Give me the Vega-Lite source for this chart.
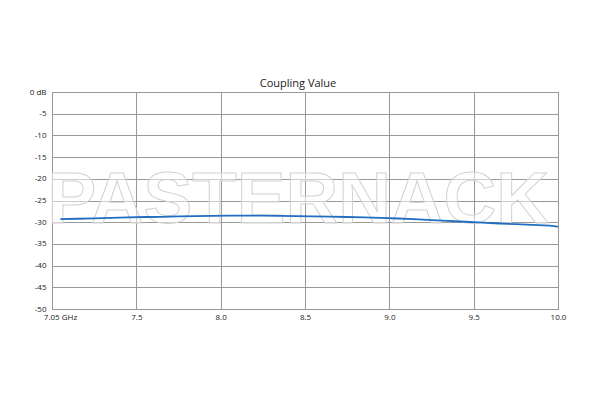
{
  "$schema": "https://vega.github.io/schema/vega-lite/v6.json",
  "autosize": {"type": "none"},
  "width": 506,
  "height": 217,
  "padding": {"left": 52, "top": 92, "right": 42, "bottom": 91},
  "background": "white",
  "title": {"text": "Coupling Value", "fontSize": 11, "font": "Open Sans", "fontWeight": "normal", "color": "#222", "offset": -1, "dx": -7},
  "config": {"view": {"stroke": "#888", "strokeWidth": 1}},
  "encoding": {
    "x": {"field": "f", "type": "quantitative", "scale": {"domain": [7, 10], "nice": false, "zero": false},
      "axis": {"values": [7, 7.5, 8, 8.5, 9, 9.5, 10], "title": null, "grid": true, "gridColor": "#999", "gridWidth": 1,
        "domain": false, "ticks": false, "labelPadding": 4, "labelFontSize": 8, "labelFont": "Open Sans", "labelColor": "#222",
        "labelExpr": "datum.value == 7 ? '7.05 GHz' : format(datum.value, '.1f')",
        "labelOffset": {"condition": {"test": "datum.value == 7", "value": 8}, "value": 0},
        "labelFlush": false, "labelOverlap": false}},
    "y": {"field": "c", "type": "quantitative", "scale": {"domain": [-50, 0], "nice": false, "zero": false},
      "axis": {"values": [0, -5, -10, -15, -20, -25, -30, -35, -40, -45, -50], "title": null, "grid": true, "gridColor": "#999", "gridWidth": 1,
        "domain": false, "ticks": false, "labelPadding": 6, "labelFontSize": 8, "labelFont": "Open Sans", "labelColor": "#222",
        "labelExpr": "datum.value == 0 ? '0 dB' : '' + datum.value", "labelFlush": false, "labelOverlap": false}}
  },
  "layer": [
    {
      "data": {"values": [{"f": 8.46, "c": -30.2, "t": "PASTERNACK"}]},
      "mark": {"type": "text", "font": "Liberation Sans", "fontSize": 73, "fontWeight": "bold", "fill": "white", "fillOpacity": 0.5, "stroke": "#d2d2d2", "strokeWidth": 1, "baseline": "alphabetic", "align": "center"},
      "encoding": {"text": {"field": "t"}}
    },
    {
      "data": {"values": [
        {"f": 7.05, "c": -29.3}, {"f": 7.15, "c": -29.2}, {"f": 7.25, "c": -29.1}, {"f": 7.35, "c": -29.0},
        {"f": 7.45, "c": -28.9}, {"f": 7.55, "c": -28.8}, {"f": 7.65, "c": -28.75}, {"f": 7.75, "c": -28.65},
        {"f": 7.85, "c": -28.6}, {"f": 7.95, "c": -28.55}, {"f": 8.05, "c": -28.5}, {"f": 8.15, "c": -28.5},
        {"f": 8.25, "c": -28.5}, {"f": 8.35, "c": -28.55}, {"f": 8.45, "c": -28.6}, {"f": 8.55, "c": -28.65},
        {"f": 8.65, "c": -28.7}, {"f": 8.75, "c": -28.8}, {"f": 8.85, "c": -28.9}, {"f": 8.95, "c": -29.0},
        {"f": 9.05, "c": -29.15}, {"f": 9.15, "c": -29.3}, {"f": 9.25, "c": -29.5}, {"f": 9.35, "c": -29.7},
        {"f": 9.45, "c": -29.9}, {"f": 9.55, "c": -30.1}, {"f": 9.65, "c": -30.3}, {"f": 9.75, "c": -30.45},
        {"f": 9.85, "c": -30.6}, {"f": 9.95, "c": -30.8}, {"f": 10.0, "c": -31.0}
      ]},
      "mark": {"type": "line", "color": "#1f6ec2", "strokeWidth": 1.8}
    }
  ]
}
